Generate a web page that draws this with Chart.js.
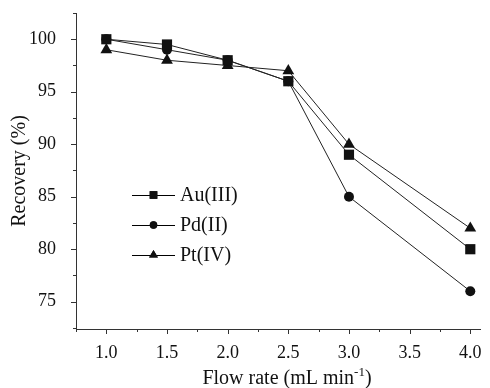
<!DOCTYPE html>
<html>
<head>
<meta charset="utf-8">
<script src="https://cdn.jsdelivr.net/npm/chart.js"></script>
<style>
  html,body{margin:0;padding:0;background:#fff}
  #wrap{width:490px;height:388px;position:relative}
</style>
</head>
<body>
<div id="wrap"><canvas id="grafik"></canvas></div>
<script>
// ===== data =====
const flowRate = [1.0, 1.5, 2.0, 2.5, 3.0, 4.0];
const auIII = [100, 99.5, 98, 96, 89, 80];
const pdII  = [100, 99, 98, 96, 85, 76];
const ptIV  = [99, 98, 97.5, 97, 90, 82];
const seriesNames = ["Au(III)", "Pd(II)", "Pt(IV)"];
const xTickLabels = ["1.0", "1.5", "2.0", "2.5", "3.0", "3.5", "4.0"];
const yTickLabels = ["75", "80", "85", "90", "95", "100"];

const FONT = "'Liberation Serif', 'Times New Roman', serif";

const toPts = (ys) => flowRate.map((x, i) => ({x: x, y: ys[i]}));

// ===== ticks (major + minor, drawn outside) =====
const tickPlugin = {
  id: "ticks",
  afterDraw(chart) {
    const ctx = chart.ctx;
    const xs = chart.scales.x, ys = chart.scales.y;
    ctx.save();
    ctx.strokeStyle = "#333";
    ctx.lineWidth = 1;
    ctx.beginPath();
    for (let v = 0.75; v <= 4.01; v += 0.25) {
      const px = Math.round(xs.getPixelForValue(v)) + 0.5;
      const major = Math.abs(v * 2 - Math.round(v * 2)) < 1e-6;
      ctx.moveTo(px, ys.bottom);
      ctx.lineTo(px, ys.bottom + (major ? 5 : 3));
    }
    for (let v = 72.5; v <= 102.51; v += 2.5) {
      const py = Math.round(ys.getPixelForValue(v)) + 0.5;
      const major = v % 5 === 0;
      ctx.moveTo(xs.left, py);
      ctx.lineTo(xs.left - (major ? 5 : 3), py);
    }
    ctx.stroke();
    ctx.restore();
  }
};

// ===== x title with superscript =====
const xTitlePlugin = {
  id: "xTitle",
  afterDraw(chart) {
    const ctx = chart.ctx;
    const parts = [["Flow rate (mL min", 20, 0], ["-1", 13, -8], [")", 20, 0]];
    ctx.save();
    ctx.fillStyle = "#111";
    ctx.textBaseline = "alphabetic";
    let w = 0;
    parts.forEach(p => { ctx.font = p[1] + "px " + FONT; w += ctx.measureText(p[0]).width; });
    let x = 287 - w / 2;
    parts.forEach(p => {
      ctx.font = p[1] + "px " + FONT;
      ctx.fillText(p[0], x, 384 + p[2]);
      x += ctx.measureText(p[0]).width;
    });
    ctx.restore();
  }
};

// ===== legend: line - marker - line + text =====
const legendPlugin = {
  id: "legendBox",
  afterDraw(chart) {
    const ctx = chart.ctx;
    ctx.save();
    chart.data.datasets.forEach((ds, i) => {
      const yy = 195 + i * 30;
      ctx.strokeStyle = "#000";
      ctx.lineWidth = 1;
      ctx.beginPath();
      ctx.moveTo(132, yy + 0.5);
      ctx.lineTo(175, yy + 0.5);
      ctx.stroke();
      ctx.fillStyle = "#111";
      Chart.helpers.drawPoint(ctx, {pointStyle: ds.pointStyle, radius: ds.pointRadius * 0.75, rotation: 0, borderWidth: 0}, 153.5, yy);
      ctx.fill();
      ctx.font = "20px " + FONT;
      ctx.textBaseline = "middle";
      ctx.fillText(ds.label, 180, yy + 1);
    });
    ctx.restore();
  }
};

function mkSet(label, ys, style, r) {
  return {
    label: label,
    data: toPts(ys),
    borderColor: "#222",
    borderWidth: 1,
    backgroundColor: "#111",
    pointBackgroundColor: "#111",
    pointBorderColor: "#111",
    pointBorderWidth: 0,
    pointStyle: style,
    pointRadius: r,
    tension: 0
  };
}

new Chart(document.getElementById("grafik"), {
  type: "line",
  data: {
    datasets: [
      mkSet(seriesNames[0], auIII, "rect", 7.2),
      mkSet(seriesNames[1], pdII, "circle", 5),
      mkSet(seriesNames[2], ptIV, "triangle", 6.8)
    ]
  },
  options: {
    responsive: true,
    maintainAspectRatio: false,
    animation: false,
    layout: {padding: {top: 13, right: 10, left: 0, bottom: 0}},
    plugins: {legend: {display: false}, tooltip: {enabled: false}},
    scales: {
      x: {
        type: "linear",
        min: 0.75, max: 4.08,
        afterBuildTicks(s) { s.ticks = xTickLabels.map(t => ({value: parseFloat(t)})); },
        afterFit(s) { s.height = 59; s.paddingLeft = 0; s.paddingRight = 0; },
        grid: {display: false},
        border: {display: true, color: "#333", width: 1},
        ticks: {
          padding: 5,
          color: "#111",
          font: {family: FONT, size: 18},
          callback: (v) => xTickLabels.find(t => parseFloat(t) === v) || ""
        },
        title: {display: false}
      },
      y: {
        min: 72.4, max: 102.5,
        afterBuildTicks(s) { s.ticks = yTickLabels.map(t => ({value: parseFloat(t)})); },
        afterFit(s) { s.width = 76; s.paddingTop = 0; s.paddingBottom = 0; },
        grid: {display: false},
        border: {display: true, color: "#333", width: 1},
        ticks: {
          padding: 12,
          color: "#111",
          font: {family: FONT, size: 18},
          callback: (v) => yTickLabels.find(t => parseFloat(t) === v) || ""
        },
        title: {
          display: true,
          text: "Recovery (%)",
          color: "#111",
          font: {family: FONT, size: 20},
          padding: {top: 8, bottom: 2}
        }
      }
    }
  },
  plugins: [tickPlugin, legendPlugin, xTitlePlugin]
});
</script>
</body>
</html>
